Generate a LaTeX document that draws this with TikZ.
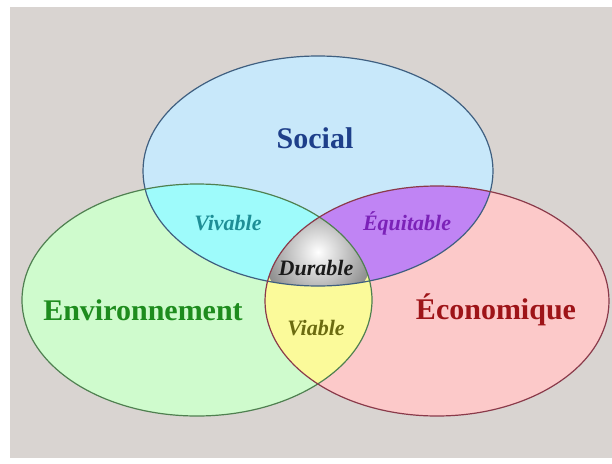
\documentclass[tikz,border=0pt]{standalone}
\usepackage{fontspec}
\setmainfont{Liberation Serif}
\definecolor{bgc}{HTML}{D9D4D1}
\definecolor{socf}{HTML}{C8E8FA}
\definecolor{envf}{HTML}{CFFBCD}
\definecolor{ecof}{HTML}{FCC9C9}
\definecolor{vivf}{HTML}{9EFBFB}
\definecolor{equf}{HTML}{C084F4}
\definecolor{viaf}{HTML}{FBFA9A}
\definecolor{socl}{HTML}{3F5F80}
\definecolor{envl}{HTML}{4F8050}
\definecolor{ecol}{HTML}{8A3A4A}
\definecolor{soct}{HTML}{1E3F8A}
\definecolor{envt}{HTML}{1E8C1E}
\definecolor{ecot}{HTML}{9E1418}
\definecolor{vivt}{HTML}{1E8E96}
\definecolor{equt}{HTML}{7B22B8}
\definecolor{viat}{HTML}{6B6B10}
\definecolor{durt}{HTML}{1A1A1A}
\tikzset{
  bigtxt/.style={anchor=base, font=\fontsize{30}{32}\selectfont\bfseries, inner sep=0pt},
  smalltxt/.style={anchor=base, font=\fontsize{22}{24}\selectfont\bfseries\itshape, inner sep=0pt},
  outline/.style={line width=1.2pt}
}
\def\SocE{(318,171) ellipse [x radius=175pt, y radius=115pt]}
\def\EnvE{(197,300) ellipse [x radius=175pt, y radius=116pt]}
\def\EcoE{(437,301) ellipse [x radius=172pt, y radius=115pt]}
\begin{document}
\begin{tikzpicture}[x=1pt,y=-1pt]
\useasboundingbox (0,0) rectangle (612,463);
\fill[white] (0,0) rectangle (612,463);
\fill[bgc] (10,7) rectangle (612,458);
% base fills
\fill[socf] \SocE;
\fill[envf] \EnvE;
\fill[ecof] \EcoE;
% pairwise
\begin{scope}\clip \SocE; \fill[vivf] \EnvE; \fill[equf] \EcoE; \end{scope}
\begin{scope}\clip \EnvE; \fill[viaf] \EcoE; \end{scope}
% triple
\begin{scope}\clip \SocE; \clip \EnvE; \clip \EcoE;
  \shade[inner color=white, outer color=black!45] (318,252) circle [radius=55pt];
\end{scope}
% outlines
\draw[outline, socl] \SocE;
\draw[outline, envl] \EnvE;
\draw[outline, ecol] \EcoE;
% labels
\node[bigtxt, text=soct] (social) at (315,148) {Social};
\node[bigtxt, text=envt] (env) at (143,320) {Environnement};
\node[bigtxt, text=ecot] (eco) at (496,319) {Économique};
\node[smalltxt, text=vivt] (viv) at (228,230) {Vivable};
\node[smalltxt, text=equt] (equ) at (407,230) {Équitable};
\node[smalltxt, text=durt] (dur) at (316,275) {Durable};
\node[smalltxt, text=viat] (via) at (316,335) {Viable};
\end{tikzpicture}
\end{document}
